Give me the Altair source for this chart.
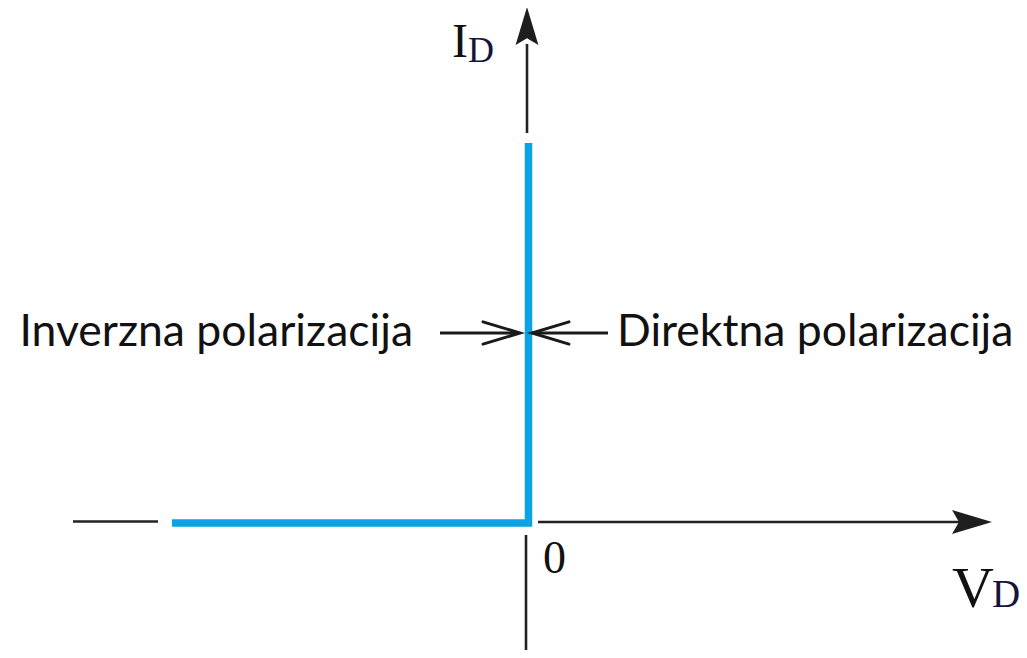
import altair as alt
import pandas as pd

# ---- data (schematic units: 1 unit ~ 1 px, origin at V_D = 0, I_D = 0) ----
# ideal diode characteristic (blue)
curve_v = [-355, 1.5, 1.5]
curve_i = [-1, -1, 379]

# axis segments (black)
seg_v1 = [-454, 11, 0, -1]
seg_v2 = [-369, 433, 0, -1]
seg_i1 = [0.5, 0, 389, -13]
seg_i2 = [0.5, 0, 478, -128]

# axis arrowheads
head_v = [445, 0]
head_i = [0, 496]
head_angle = [0, 270]
head_size = [1600, 1444]

# annotation arrows
ann_v1 = [-87, 5]
ann_v2 = [-9, 81]
ann_i = [189, 189]
ann_head_v = [-25.5, 23.5]
ann_head_angle = [0, 180]

# labels
side_labels = ["Inverzna polarizacija", "Direktna polarizacija"]
side_v = [-114, 90]
side_i = [176, 176]

X_DOM = [-519, 492]
Y_DOM = [-128, 514]

xs = alt.Scale(domain=X_DOM, nice=False, zero=False)
ys = alt.Scale(domain=Y_DOM, nice=False, zero=False)


def X(f="v"):
    return alt.X(f"{f}:Q", scale=xs, axis=None)


def Y(f="i"):
    return alt.Y(f"{f}:Q", scale=ys, axis=None)


curve_df = pd.DataFrame({"v": curve_v, "i": curve_i, "k": list(range(len(curve_v)))})
seg_df = pd.DataFrame({"v": seg_v1, "v2": seg_v2, "i": seg_i1, "i2": seg_i2})
head_df = pd.DataFrame({"v": head_v, "i": head_i, "a": head_angle, "s": head_size})
ann_df = pd.DataFrame({"v": ann_v1, "v2": ann_v2, "i": ann_i})
ann_head_df = pd.DataFrame({"v": ann_head_v, "i": ann_i, "a": ann_head_angle})

axes = alt.Chart(seg_df).mark_rule(color="#222222", strokeWidth=2.6).encode(
    x=X(), x2="v2:Q", y=Y(), y2="i2:Q"
)

heads = alt.Chart(head_df).mark_point(
    shape="M1,0 L-1,-0.6 L-0.65,0 L-1,0.6 Z",
    filled=True, color="#1e1e1e", opacity=1, strokeWidth=0
).encode(
    x=X(), y=Y(),
    angle=alt.Angle("a:Q", scale=None),
    size=alt.Size("s:Q", scale=None),
)

curve = alt.Chart(curve_df).mark_line(
    color="#0aa3e6", strokeWidth=7.5, strokeCap="butt", strokeJoin="miter"
).encode(x=X(), y=Y(), order="k:Q")

ann_shafts = alt.Chart(ann_df).mark_rule(color="#1a1a1a", strokeWidth=3).encode(
    x=X(), x2="v2:Q", y=Y()
)

ann_heads = alt.Chart(ann_head_df).mark_point(
    shape="M-1,-0.6 L1,0 L-1,0.6",
    filled=False, color="#1a1a1a", opacity=1, strokeWidth=3, size=1369,
    strokeJoin="miter", strokeCap="round"
).encode(x=X(), y=Y(), angle=alt.Angle("a:Q", scale=None))

side_df = pd.DataFrame({"t": side_labels, "v": side_v, "i": side_i})
left_txt = alt.Chart(side_df.iloc[[0]]).mark_text(
    font="Lato", fontSize=44.5, align="right", baseline="alphabetic", color="#111111"
).encode(x=X(), y=Y(), text="t:N")
right_txt = alt.Chart(side_df.iloc[[1]]).mark_text(
    font="Lato", fontSize=44.5, align="left", baseline="alphabetic", color="#111111"
).encode(x=X(), y=Y(), text="t:N")

serif_labels = ["0", "V", "D", "I", "D"]
serif_v = [16, 425, 465, -75, -59]
serif_i = [-51, -85, -85, 465, 460]
serif_size = [46, 58, 39, 48, 36]
serif_color = ["#111111", "#111111", "#14143c", "#111111", "#14143c"]
serif_df = pd.DataFrame({"t": serif_labels, "v": serif_v, "i": serif_i,
                         "fs": serif_size, "c": serif_color})
serif_txt = alt.Chart(serif_df).mark_text(
    font="Liberation Serif", align="left", baseline="alphabetic"
).encode(
    x=X(), y=Y(), text="t:N",
    size=alt.Size("fs:Q", scale=None),
    color=alt.Color("c:N", scale=None),
)

chart = alt.layer(
    axes, heads, curve, ann_shafts, ann_heads, left_txt, right_txt, serif_txt
).properties(
    width=1011, height=642, padding=0, autosize=alt.AutoSizeParams(type="none"),
    background="white"
).configure_view(stroke=None)

chart.save("out.html", embed_options={"renderer": "svg", "actions": False})
